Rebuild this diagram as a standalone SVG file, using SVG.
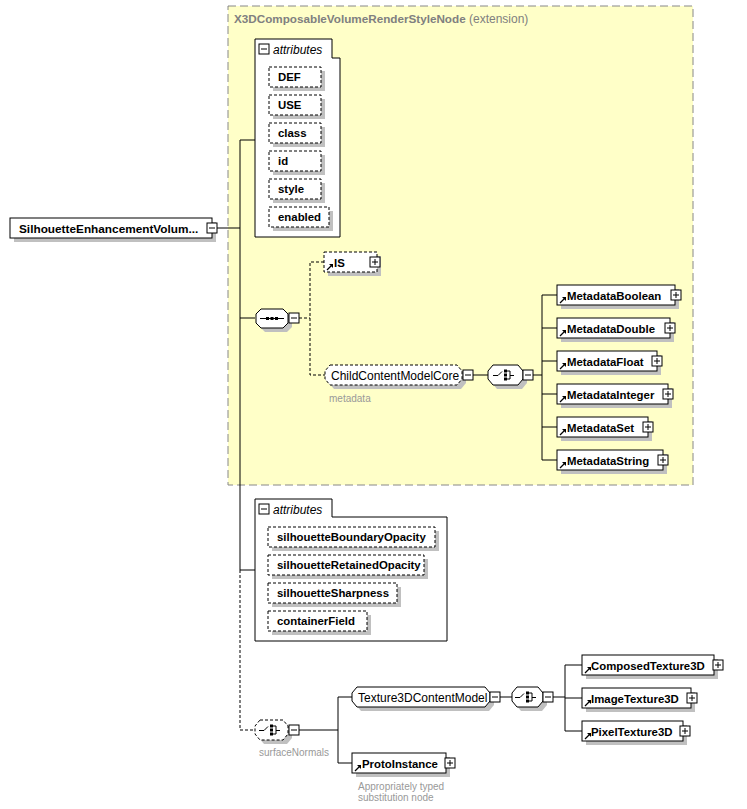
<svg xmlns="http://www.w3.org/2000/svg" width="747" height="809" viewBox="0 0 747 809">
<style>
text{font-family:"Liberation Sans",Arial,sans-serif;font-size:12px;fill:#000}
.b{font-weight:bold;font-size:11.4px}
.t{font-weight:normal}
.lbl{font-size:10px;fill:#999}
.ttl{fill:#808080}
.ttl .b{font-size:11.7px}
.box{fill:#fff;stroke:#000;stroke-width:1}
.dbox{fill:#fff;stroke:#000;stroke-width:1;stroke-dasharray:3,2}
.sh{fill:#c0c0c0}
.ln{fill:none;stroke:#000;stroke-width:1}
.dl{fill:none;stroke:#000;stroke-width:1;stroke-dasharray:3,2}
.ico{fill:#fff;stroke:#000;stroke-width:1}
.frame{fill:#fff;stroke:#000;stroke-width:1}
</style>
<defs>
<g id="minus"><rect class="ico" x="0" y="0" width="10" height="10"/><path class="ln" d="M2,5H8"/></g>
<g id="plus"><rect class="ico" x="0" y="0" width="10" height="10"/><path class="ln" d="M2,5H8M5,2V8"/></g>
<g id="arr"><path d="M0,6L5,1" stroke="#000" stroke-width="1.2" fill="none"/><path d="M2,0H6V4Z" fill="#000"/></g>
<g id="seqsym"><path class="ln" d="M-12,0H12"/><rect x="-6" y="-1.5" width="3" height="3" fill="#000"/><rect x="-1.5" y="-1.5" width="3" height="3" fill="#000"/><rect x="3" y="-1.5" width="3" height="3" fill="#000"/></g>
<g id="chsym"><path class="ln" d="M-12,1H-7L-3,-3"/><rect x="-1" y="-5" width="3" height="3" fill="#000"/><rect x="-1" y="-1" width="3" height="3" fill="#000"/><rect x="-1" y="3" width="3" height="3" fill="#000"/><path class="ln" d="M2,-3.5H5V4.5H2M5,1H9"/></g>
</defs>

<!-- extension frame -->
<g id="extension">
<rect x="228" y="6" width="465" height="479" fill="#ffffc8" stroke="#888" stroke-width="1" stroke-dasharray="8,4"/>
<text x="234" y="23" class="ttl"><tspan class="b">X3DComposableVolumeRenderStyleNode</tspan><tspan class="t"> (extension)</tspan></text>
</g>

<!-- connectors -->
<g id="connectors">
<path class="ln" d="M217,228H240"/>
<path class="ln" d="M255,140H240V570"/>
<path class="ln" d="M240,318H255"/>
<path class="ln" d="M240,570H255"/>
<path class="dl" d="M240,570V730H255"/>
<path class="dl" d="M299,318H310"/>
<path class="dl" d="M324,262H310V375H325"/>
<path class="ln" d="M473,375H488"/>
<path class="ln" d="M533,375H542"/>
<path class="ln" d="M542,295V460"/>
<path class="ln" d="M542,295H557M542,328H557M542,361H557M542,394H557M542,427H557M542,460H557"/>
<path class="ln" d="M299,730H338"/>
<path class="ln" d="M338,697V763"/>
<path class="ln" d="M338,697H352M338,763H352"/>
<path class="ln" d="M500,697H512"/>
<path class="ln" d="M553,697H565"/>
<path class="ln" d="M565,665V731"/>
<path class="ln" d="M565,665H582M565,698H582M565,731H582"/>
</g>

<!-- root -->
<g id="root">
<rect class="sh" x="14" y="222" width="202" height="20"/>
<rect class="box" x="10" y="218" width="202" height="20"/>
<text x="19" y="233" class="b" style="font-size:11.8px">SilhouetteEnhancementVolum...</text>
<use href="#minus" x="207" y="223"/>
</g>

<!-- attributes 1 -->
<g id="attributes1">
<path class="frame" d="M255,39H332V58H340V237H255Z"/>
<use href="#minus" x="259" y="44"/>
<text x="273" y="54" font-style="italic">attributes</text>
</g>
<g id="attr-DEF"><rect class="sh" x="273" y="71" width="52" height="20"/><rect class="dbox" x="269" y="67" width="52" height="20"/><text x="278" y="81" class="b">DEF</text></g>
<g id="attr-USE"><rect class="sh" x="273" y="99" width="52" height="20"/><rect class="dbox" x="269" y="95" width="52" height="20"/><text x="278" y="109" class="b">USE</text></g>
<g id="attr-class"><rect class="sh" x="273" y="127" width="52" height="20"/><rect class="dbox" x="269" y="123" width="52" height="20"/><text x="278" y="137" class="b">class</text></g>
<g id="attr-id"><rect class="sh" x="273" y="155" width="52" height="20"/><rect class="dbox" x="269" y="151" width="52" height="20"/><text x="278" y="165" class="b">id</text></g>
<g id="attr-style"><rect class="sh" x="273" y="183" width="52" height="20"/><rect class="dbox" x="269" y="179" width="52" height="20"/><text x="278" y="193" class="b">style</text></g>
<g id="attr-enabled"><rect class="sh" x="273" y="211" width="60" height="20"/><rect class="dbox" x="269" y="207" width="60" height="20"/><text x="278" y="221" class="b">enabled</text></g>

<!-- sequence -->
<g id="sequence">
<path class="sh" d="M265,313H287L292,318V327L287,332H265L260,327V318Z"/>
<path class="box" d="M261,309H283L288,314V323L283,328H261L256,323V314Z"/>
<use href="#seqsym" x="272" y="318.5"/>
<use href="#minus" x="289" y="313"/>
</g>

<!-- IS -->
<g id="IS">
<rect class="sh" x="328" y="256" width="53" height="20"/>
<rect class="dbox" x="324" y="252" width="53" height="20"/>
<use href="#arr" x="327" y="264"/>
<text x="334" y="267" class="b">IS</text>
<use href="#plus" x="370" y="257"/>
</g>

<!-- ChildContentModelCore -->
<g id="ChildContentModelCore">
<path class="sh" d="M334,369H461L466,375V383L461,389H334L329,383V375Z"/>
<path class="dbox" d="M330,365H457L462,371V379L457,385H330L325,379V371Z"/>
<text x="331" y="380" class="t">ChildContentModelCore</text>
<use href="#minus" x="463" y="370"/>
<text x="329" y="402" class="lbl">metadata</text>
</g>

<!-- choice 1 -->
<g id="choice1">
<path class="sh" d="M497,369H522L527,375V383L522,389H497L492,383V375Z"/>
<path class="box" d="M493,365H518L523,371V379L518,385H493L488,379V371Z"/>
<use href="#chsym" x="505" y="374.5"/>
<use href="#minus" x="523" y="370"/>
</g>

<!-- metadata elements -->
<g id="MetadataBoolean"><rect class="sh" x="561" y="289" width="118" height="20"/><rect class="box" x="557" y="285" width="118" height="20"/><use href="#arr" x="560" y="297"/><text x="567" y="300" class="b">MetadataBoolean</text><use href="#plus" x="671" y="290"/></g>
<g id="MetadataDouble"><rect class="sh" x="561" y="322" width="113" height="20"/><rect class="box" x="557" y="318" width="113" height="20"/><use href="#arr" x="560" y="330"/><text x="567" y="333" class="b">MetadataDouble</text><use href="#plus" x="665" y="323"/></g>
<g id="MetadataFloat"><rect class="sh" x="561" y="355" width="100" height="20"/><rect class="box" x="557" y="351" width="100" height="20"/><use href="#arr" x="560" y="363"/><text x="567" y="366" class="b">MetadataFloat</text><use href="#plus" x="652" y="356"/></g>
<g id="MetadataInteger"><rect class="sh" x="561" y="388" width="111" height="20"/><rect class="box" x="557" y="384" width="111" height="20"/><use href="#arr" x="560" y="396"/><text x="567" y="399" class="b">MetadataInteger</text><use href="#plus" x="663" y="389"/></g>
<g id="MetadataSet"><rect class="sh" x="561" y="421" width="91" height="20"/><rect class="box" x="557" y="417" width="91" height="20"/><use href="#arr" x="560" y="429"/><text x="567" y="432" class="b">MetadataSet</text><use href="#plus" x="643" y="422"/></g>
<g id="MetadataString"><rect class="sh" x="561" y="454" width="106" height="20"/><rect class="box" x="557" y="450" width="106" height="20"/><use href="#arr" x="560" y="462"/><text x="567" y="465" class="b">MetadataString</text><use href="#plus" x="658" y="455"/></g>

<!-- attributes 2 -->
<g id="attributes2">
<path class="frame" d="M255,499H332V517H447V641H255Z"/>
<use href="#minus" x="259" y="504"/>
<text x="273" y="514" font-style="italic">attributes</text>
</g>
<g id="attr-silhouetteBoundaryOpacity"><rect class="sh" x="272" y="531" width="167" height="20"/><rect class="dbox" x="268" y="527" width="167" height="20"/><text x="277" y="541" class="b">silhouetteBoundaryOpacity</text></g>
<g id="attr-silhouetteRetainedOpacity"><rect class="sh" x="272" y="559" width="156" height="20"/><rect class="dbox" x="268" y="555" width="156" height="20"/><text x="277" y="569" class="b">silhouetteRetainedOpacity</text></g>
<g id="attr-silhouetteSharpness"><rect class="sh" x="272" y="587" width="129" height="20"/><rect class="dbox" x="268" y="583" width="129" height="20"/><text x="277" y="597" class="b">silhouetteSharpness</text></g>
<g id="attr-containerField"><rect class="sh" x="272" y="615" width="99" height="20"/><rect class="dbox" x="268" y="611" width="99" height="20"/><text x="277" y="625" class="b">containerField</text></g>

<!-- choice surfaceNormals -->
<g id="choice-surfaceNormals">
<path class="sh" d="M264,724H287L292,730V738L287,744H264L259,738V730Z"/>
<path class="dbox" d="M260,720H283L288,726V734L283,740H260L255,734V726Z"/>
<use href="#chsym" x="271" y="729.5"/>
<use href="#minus" x="289" y="725"/>
<text x="259" y="756" class="lbl">surfaceNormals</text>
</g>

<!-- Texture3DContentModel -->
<g id="Texture3DContentModel">
<path class="sh" d="M361,691H489L494,697V705L489,711H361L356,705V697Z"/>
<path class="box" d="M357,687H485L490,693V701L485,707H357L352,701V693Z"/>
<text x="358" y="702" class="t">Texture3DContentModel</text>
<use href="#minus" x="490" y="692"/>
</g>

<!-- choice 2 -->
<g id="choice2">
<path class="sh" d="M521,691H542L547,697V705L542,711H521L516,705V697Z"/>
<path class="box" d="M517,687H538L543,693V701L538,707H517L512,701V693Z"/>
<use href="#chsym" x="527" y="696.5"/>
<use href="#minus" x="543" y="692"/>
</g>

<!-- ProtoInstance -->
<g id="ProtoInstance">
<rect class="sh" x="356" y="757" width="94" height="20"/>
<rect class="box" x="352" y="753" width="94" height="20"/>
<use href="#arr" x="355" y="765"/>
<text x="362" y="768" class="b">ProtoInstance</text>
<use href="#plus" x="445" y="758"/>
<text x="358" y="790" class="lbl">Appropriately typed</text>
<text x="358" y="801" class="lbl">substitution node</text>
</g>

<!-- textures -->
<g id="ComposedTexture3D"><rect class="sh" x="586" y="659" width="132" height="20"/><rect class="box" x="582" y="655" width="132" height="20"/><use href="#arr" x="585" y="667"/><text x="591" y="670" class="b">ComposedTexture3D</text><use href="#plus" x="713" y="660"/></g>
<g id="ImageTexture3D"><rect class="sh" x="586" y="692" width="109" height="20"/><rect class="box" x="582" y="688" width="109" height="20"/><use href="#arr" x="585" y="700"/><text x="591" y="703" class="b">ImageTexture3D</text><use href="#plus" x="687" y="693"/></g>
<g id="PixelTexture3D"><rect class="sh" x="586" y="725" width="101" height="20"/><rect class="box" x="582" y="721" width="101" height="20"/><use href="#arr" x="585" y="733"/><text x="591" y="736" class="b">PixelTexture3D</text><use href="#plus" x="680" y="726"/></g>
</svg>
